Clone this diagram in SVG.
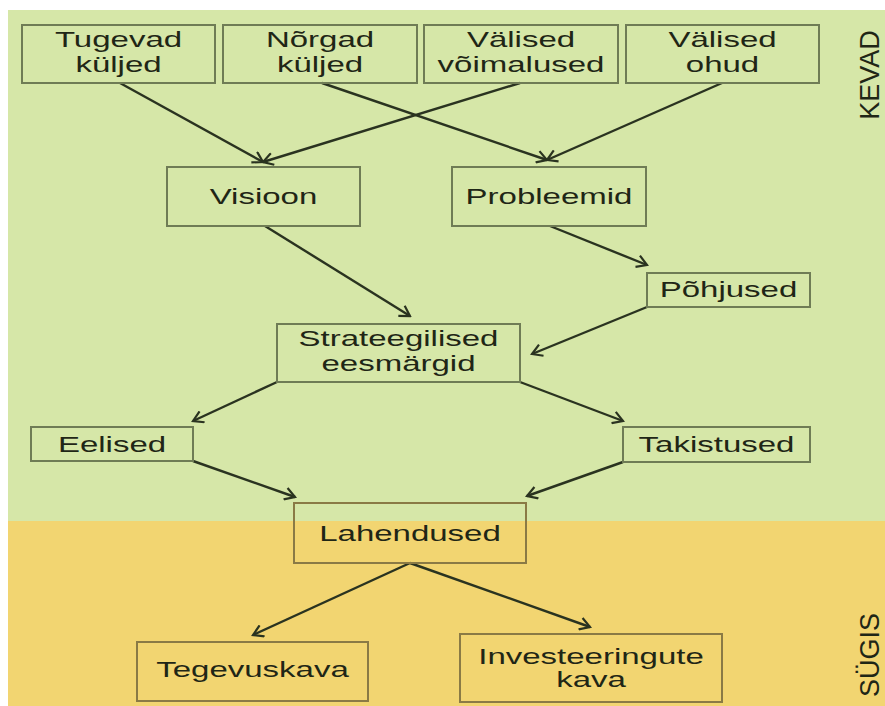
<svg xmlns="http://www.w3.org/2000/svg" width="885" height="706" viewBox="0 0 885 706">
<style>
.t{font-family:"Liberation Sans",Arial,sans-serif;font-size:22px;fill:#1f2616;text-anchor:middle}
.side{font-family:"Liberation Sans",Arial,sans-serif;font-size:27px;fill:#1f2616;text-anchor:middle}
.bg rect{fill:none;stroke:#6f7c55;stroke-width:2}
.by rect{fill:none;stroke:#8a7a45;stroke-width:2}
#connectors line{stroke:#2a3320;stroke-width:2.4;marker-end:url(#arr)}
</style>
<defs>
<marker id="arr" markerUnits="userSpaceOnUse" markerWidth="14" markerHeight="14" viewBox="0 0 14 14" refX="12" refY="7" orient="auto">
<path d="M2,1 L12,7 L2,13" fill="none" stroke="#2a3320" stroke-width="2.2"/>
</marker>
</defs>
<rect x="0" y="0" width="885" height="706" fill="#ffffff"/>
<rect x="8" y="10" width="877" height="511" fill="#d6e7a8"/>
<rect x="8" y="521" width="877" height="185" fill="#f2d571"/>

<text class="side" transform="translate(879,75) rotate(-90)">KEVAD</text>
<text class="side" transform="translate(879,655) rotate(-90)">SÜGIS</text>

<g id="connectors">
<line x1="120" y1="83" x2="263" y2="162"/>
<line x1="322" y1="83" x2="547" y2="160"/>
<line x1="520" y1="83" x2="263" y2="162"/>
<line x1="722" y1="83" x2="547" y2="160"/>
<line x1="265" y1="226" x2="410" y2="316"/>
<line x1="550" y1="226" x2="647" y2="265"/>
<line x1="647" y1="307" x2="532" y2="354"/>
<line x1="277" y1="382" x2="193" y2="421"/>
<line x1="520" y1="382" x2="623" y2="421"/>
<line x1="193" y1="461" x2="295" y2="497"/>
<line x1="623" y1="462" x2="527" y2="496"/>
<line x1="410" y1="563" x2="253" y2="635"/>
<line x1="410" y1="563" x2="590" y2="627"/>
</g>

<g id="tugevad" class="bg">
<rect x="22" y="25" width="193" height="58"/>
<text class="t" transform="translate(118.5,47) scale(1.5,1)">Tugevad</text>
<text class="t" transform="translate(118.5,72) scale(1.5,1)">küljed</text>
</g>
<g id="norgad" class="bg">
<rect x="223" y="25" width="194" height="58"/>
<text class="t" transform="translate(320,47) scale(1.5,1)">Nõrgad</text>
<text class="t" transform="translate(320,72) scale(1.5,1)">küljed</text>
</g>
<g id="voimalused" class="bg">
<rect x="424" y="25" width="194" height="58"/>
<text class="t" transform="translate(521,47) scale(1.5,1)">Välised</text>
<text class="t" transform="translate(521,72) scale(1.5,1)">võimalused</text>
</g>
<g id="ohud" class="bg">
<rect x="626" y="25" width="193" height="58"/>
<text class="t" transform="translate(722.5,47) scale(1.5,1)">Välised</text>
<text class="t" transform="translate(722.5,72) scale(1.5,1)">ohud</text>
</g>
<g id="visioon" class="bg">
<rect x="167" y="167" width="193" height="59"/>
<text class="t" transform="translate(263.5,204) scale(1.5,1)">Visioon</text>
</g>
<g id="probleemid" class="bg">
<rect x="452" y="167" width="194" height="59"/>
<text class="t" transform="translate(549,204) scale(1.5,1)">Probleemid</text>
</g>
<g id="pohjused" class="bg">
<rect x="647" y="273" width="163" height="34"/>
<text class="t" transform="translate(728.5,297) scale(1.5,1)">Põhjused</text>
</g>
<g id="strateegilised" class="bg">
<rect x="277" y="324" width="243" height="58"/>
<text class="t" transform="translate(398.5,346) scale(1.5,1)">Strateegilised</text>
<text class="t" transform="translate(398.5,371) scale(1.5,1)">eesmärgid</text>
</g>
<g id="eelised" class="bg">
<rect x="31" y="427" width="162" height="34"/>
<text class="t" transform="translate(112,452) scale(1.5,1)">Eelised</text>
</g>
<g id="takistused" class="bg">
<rect x="623" y="427" width="187" height="35"/>
<text class="t" transform="translate(716.5,452) scale(1.5,1)">Takistused</text>
</g>
<g id="lahendused" class="by">
<rect x="294" y="503" width="232" height="60"/>
<text class="t" transform="translate(410,541) scale(1.5,1)">Lahendused</text>
</g>
<g id="tegevuskava" class="by">
<rect x="137" y="642" width="231" height="59"/>
<text class="t" transform="translate(252.5,677) scale(1.5,1)">Tegevuskava</text>
</g>
<g id="investeeringute" class="by">
<rect x="460" y="634" width="262" height="68"/>
<text class="t" transform="translate(591,664) scale(1.5,1)">Investeeringute</text>
<text class="t" transform="translate(591,687) scale(1.5,1)">kava</text>
</g>
</svg>
